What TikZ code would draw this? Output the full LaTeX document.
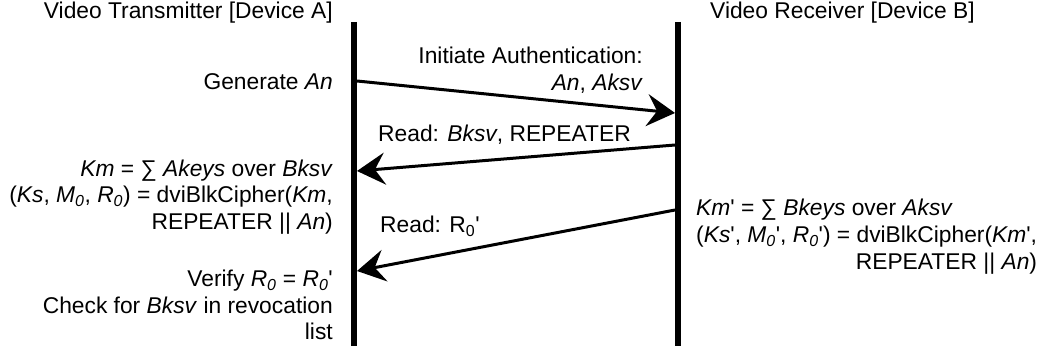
\documentclass[tikz,border=0pt]{standalone}
\usepackage{fontspec}
\setmainfont{Liberation Sans}
\usetikzlibrary{arrows.meta}
\newcommand{\quo}{\textquotesingle}
\tikzset{
    lbl/.style={inner sep=0pt, font=\fontsize{22.8}{26.8}\selectfont},
    life/.style={line width=6pt},
    msg/.style={line width=3pt, -{Stealth[length=28pt,width=32pt,inset=10pt]}},
}
\begin{document}
\begin{tikzpicture}[x=1pt,y=-1pt]
        \useasboundingbox (0,0) rectangle (1041,350);

        % lifelines
        \coordinate (Atop) at (354,22);
        \coordinate (Abot) at (354,346);
        \coordinate (Btop) at (678,22);
        \coordinate (Bbot) at (678,346);
        \path[draw,life] (Atop) -- (Abot);
        \path[draw,life] (Btop) -- (Bbot);

        \node[lbl,anchor=east] (devA) at (333,13) {Video Transmitter [Device A]};
        \node[lbl,anchor=west] (devB) at (710,13) {Video Receiver [Device B]};

        % messages
        \coordinate (a1) at (357,81);
        \coordinate (b1) at (675,113);
        \coordinate (b2) at (675,145);
        \coordinate (a2) at (357,171);
        \coordinate (b3) at (675,210);
        \coordinate (a3) at (357,271);
        \path[draw,msg] (a1) -- (b1);
        \path[draw,msg] (b2) -- (a2);
        \path[draw,msg] (b3) -- (a3);

        \node[lbl,anchor=east,align=right] (init) at (643,70) {Initiate Authentication:\\\textit{An}, \textit{Aksv}};
        \node[lbl,anchor=west] (rd1) at (378,135) {Read: \textit{Bksv}, REPEATER};
        \node[lbl,anchor=west] (rd2) at (380,226) {Read: R\textsubscript{0}\quo};

        % device A
        \node[lbl,anchor=east] (gen) at (333,82) {Generate \textit{An}};
        \node[lbl,anchor=east,align=right] (kmA) at (333,197) {\textit{Km} = ∑ \textit{Akeys} over \textit{Bksv}\\(\textit{Ks}, \textit{M}\textsubscript{\textit{0}}, \textit{R}\textsubscript{\textit{0}}) = dviBlkCipher(\textit{Km},\\REPEATER || \textit{An})};
        \node[lbl,anchor=east,align=right] (ver) at (333,305) {Verify \textit{R}\textsubscript{\textit{0}} = \textit{R}\textsubscript{\textit{0}}\quo\\Check for \textit{Bksv} in revocation\\list};

        % device B
        \node[lbl,anchor=west] (kmB) at (696,237) {\begin{tabular}{@{}l@{}}\textit{Km}\quo{} = ∑ \textit{Bkeys} over \textit{Aksv}\\(\textit{Ks}\quo, \textit{M}\textsubscript{\textit{0}}\quo, \textit{R}\textsubscript{\textit{0}}\quo) = dviBlkCipher(\textit{Km}\quo,\\\multicolumn{1}{@{}r@{}}{REPEATER || \textit{An})}\end{tabular}};
    \end{tikzpicture}
\end{document}
